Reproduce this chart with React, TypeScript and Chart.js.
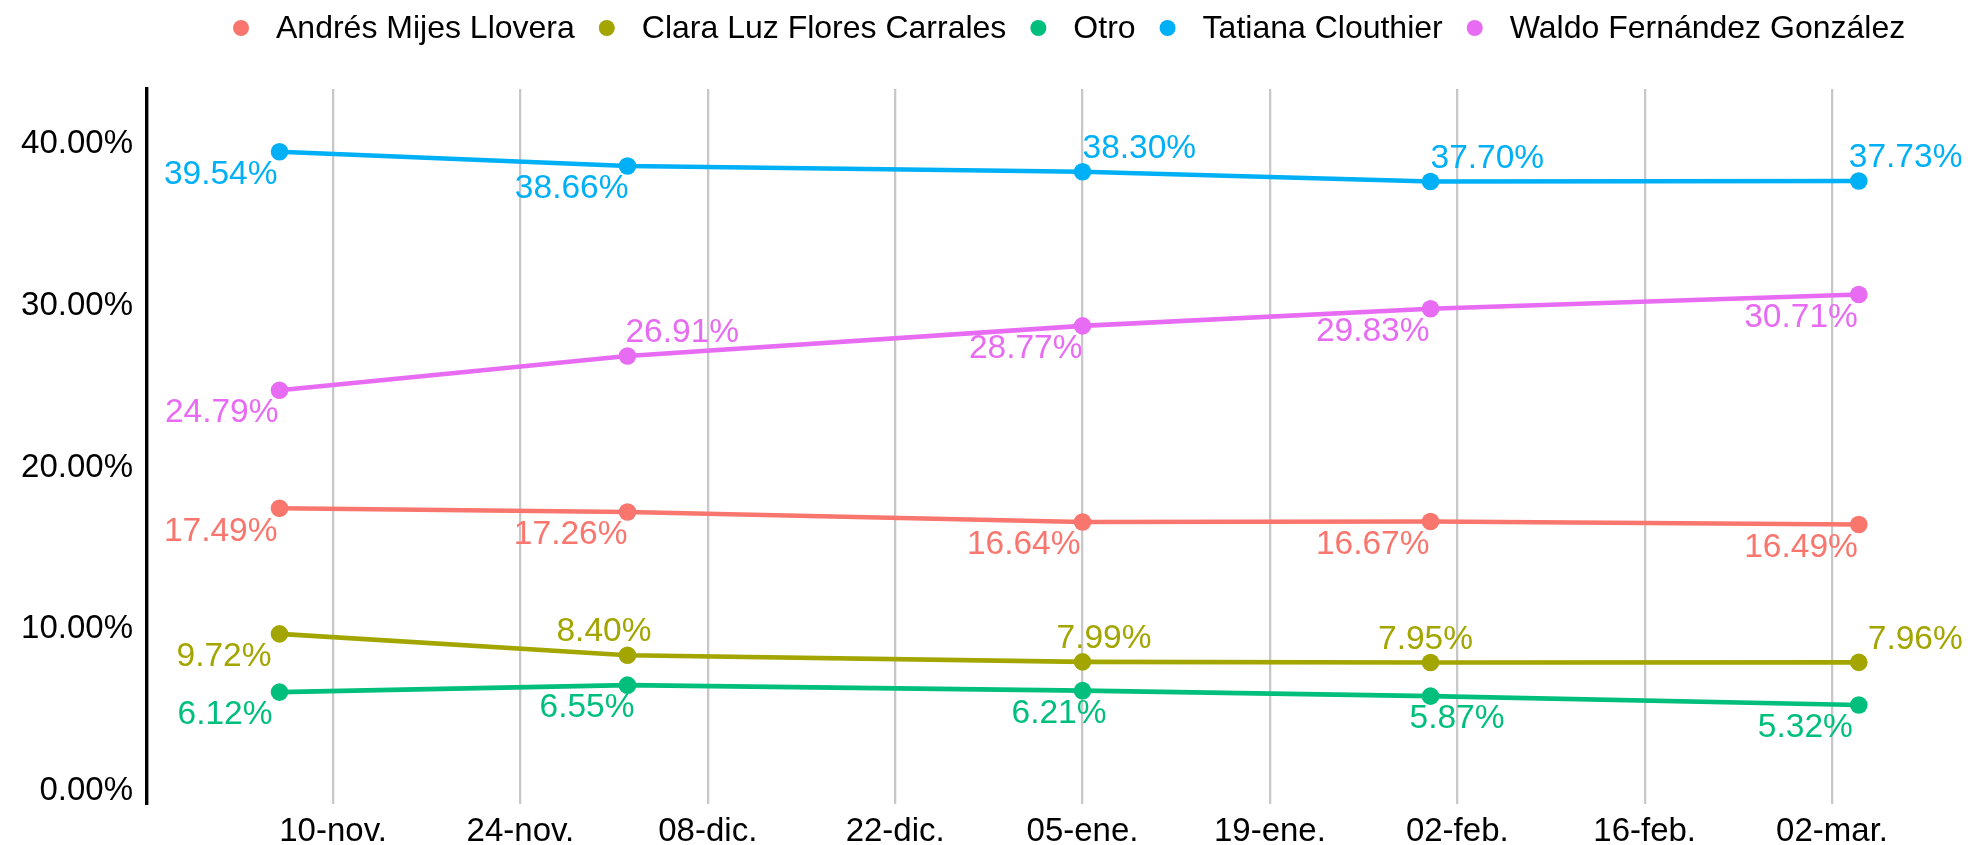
import React, { useEffect, useRef } from 'react';
import { Chart, registerables } from 'chart.js';

Chart.register(...registerables);

// ---------- data ----------
const seriesNames = [
  'Andrés Mijes Llovera',
  'Clara Luz Flores Carrales',
  'Otro',
  'Tatiana Clouthier',
  'Waldo Fernández González',
];
const seriesColors = ['#F8766D', '#A3A500', '#00BF7D', '#00B0F6', '#E76BF3'];

const pollDates = ['2020-11-06', '2020-12-02', '2021-01-05', '2021-01-31', '2021-03-04'];

const andres = [17.49, 17.26, 16.64, 16.67, 16.49];
const clara = [9.72, 8.4, 7.99, 7.95, 7.96];
const otro = [6.12, 6.55, 6.21, 5.87, 5.32];
const tatiana = [39.54, 38.66, 38.3, 37.7, 37.73];
const waldo = [24.79, 26.91, 28.77, 29.83, 30.71];

const tickDates = [
  '2020-11-10', '2020-11-24', '2020-12-08', '2020-12-22', '2021-01-05',
  '2021-01-19', '2021-02-02', '2021-02-16', '2021-03-02',
];
const tickLabels = [
  '10-nov.', '24-nov.', '08-dic.', '22-dic.', '05-ene.',
  '19-ene.', '02-feb.', '16-feb.', '02-mar.',
];
const yTicks = [0, 10, 20, 30, 40];

// ---------- label placement (style) : [textAlign, above/below, dx] ----------
type Place = [CanvasTextAlign, 'above' | 'below', number];
const andresPlace: Place[] = [['right', 'below', -2], ['right', 'below', 0], ['right', 'below', -2], ['right', 'below', -1], ['right', 'below', -1]];
const claraPlace: Place[] = [['right', 'below', -8], ['left', 'above', -71], ['left', 'above', -26], ['center', 'above', -5], ['left', 'above', 9]];
const otroPlace: Place[] = [['right', 'below', -7], ['right', 'below', 7], ['left', 'below', -71], ['left', 'below', -21], ['right', 'below', -6]];
const tatianaPlace: Place[] = [['right', 'below', -2], ['right', 'below', 1], ['left', 'above', 0], ['left', 'above', 0], ['left', 'above', -10]];
const waldoPlace: Place[] = [['right', 'below', -1], ['left', 'above', -2], ['right', 'below', 0], ['right', 'below', -1], ['right', 'below', -1]];

const seriesValues = [andres, clara, otro, tatiana, waldo];
const seriesPlaces = [andresPlace, claraPlace, otroPlace, tatianaPlace, waldoPlace];

const DAY = 86400000;
const dayNum = (s: string) => Date.parse(s + 'T00:00:00Z') / DAY;

const X_MIN = dayNum('2020-10-27') + 0.1;
const X_MAX = dayNum('2021-03-11') + 0.8;
const Y_MIN = -0.8;
const Y_MAX = 43.42;

const FONT_FAMILY = '"Liberation Sans", Arial, Helvetica, sans-serif';

const pointLabelPlugin = {
  id: 'pointLabels',
  afterDatasetsDraw(chart: any) {
    const ctx = chart.ctx;
    ctx.save();
    ctx.font = `33.5px ${FONT_FAMILY}`;
    ctx.textBaseline = 'middle';
    chart.data.datasets.forEach((ds: any, i: number) => {
      const meta = chart.getDatasetMeta(i);
      meta.data.forEach((pt: any, j: number) => {
        const [align, v, dx] = seriesPlaces[i][j];
        ctx.fillStyle = seriesColors[i];
        ctx.textAlign = align;
        const text = seriesValues[i][j].toFixed(2) + '%';
        ctx.fillText(text, pt.x + dx, pt.y + (v === 'above' ? -23 : 23));
      });
    });
    ctx.restore();
  },
};

const legendPlugin = {
  id: 'customLegend',
  afterDraw(chart: any) {
    const ctx = chart.ctx;
    ctx.save();
    ctx.font = `32px ${FONT_FAMILY}`;
    ctx.textBaseline = 'middle';
    ctx.textAlign = 'left';
    const R = 8;
    const gapText = 35;
    const gapItem = 32;
    const widths = seriesNames.map((n) => ctx.measureText(n).width);
    let total = R;
    widths.forEach((w, i) => {
      total += gapText + w + (i < widths.length - 1 ? gapItem : 0);
    });
    const center = (chart.chartArea.left + chart.chartArea.right) / 2 + 14;
    let x = center - total / 2 + R;
    const y = 28;
    seriesNames.forEach((name, i) => {
      ctx.fillStyle = seriesColors[i];
      ctx.beginPath();
      ctx.arc(x, y, R, 0, Math.PI * 2);
      ctx.fill();
      ctx.fillStyle = '#000';
      ctx.fillText(name, x + gapText, y + 1);
      x += gapText + widths[i] + gapItem;
    });
    ctx.restore();
  },
};

export default function App() {
  const canvasRef = useRef<HTMLCanvasElement | null>(null);

  useEffect(() => {
    document.body.style.margin = '0';
    document.body.style.overflow = 'hidden';
    document.body.style.background = '#ffffff';
    const canvas = canvasRef.current;
    if (!canvas) return;

    const datasets = seriesNames.map((name, i) => ({
      label: name,
      data: pollDates.map((d, j) => ({ x: dayNum(d), y: seriesValues[i][j] })),
      borderColor: seriesColors[i],
      backgroundColor: seriesColors[i],
      pointBackgroundColor: seriesColors[i],
      pointBorderWidth: 0,
      pointRadius: 8.8,
      borderWidth: 4.6,
      tension: 0,
      fill: false,
      clip: false as any,
    }));

    const chart = new Chart(canvas, {
      type: 'line',
      data: { datasets },
      options: {
        responsive: false,
        animation: false,
        events: [],
        layout: { padding: { top: 89, right: 6, left: 0, bottom: 0 } },
        plugins: {
          legend: { display: false },
          tooltip: { enabled: false },
          title: { display: false },
        },
        scales: {
          x: {
            type: 'linear',
            min: X_MIN,
            max: X_MAX,
            afterBuildTicks: (s: any) => {
              s.ticks = tickDates.map((d) => ({ value: dayNum(d) }));
            },
            afterFit: (s: any) => {
              s.height = 41;
            },
            grid: { display: true, color: '#c8c8c8', lineWidth: 2.3, drawTicks: false },
            border: { display: false },
            ticks: {
              font: { family: FONT_FAMILY, size: 33 },
              color: '#000000',
              padding: 8,
              maxRotation: 0,
              autoSkip: false,
              callback: (_v: any, i: number) => tickLabels[i],
            },
          },
          y: {
            type: 'linear',
            min: Y_MIN,
            max: Y_MAX,
            afterBuildTicks: (s: any) => {
              s.ticks = yTicks.map((v) => ({ value: v }));
            },
            afterFit: (s: any) => {
              s.width = 147;
            },
            grid: { display: false, drawTicks: false },
            border: { display: true, color: '#000000', width: 3.4 },
            ticks: {
              font: { family: FONT_FAMILY, size: 33 },
              color: '#000000',
              padding: 14,
              callback: (v: any) => Number(v).toFixed(2) + '%',
            },
          },
        },
      },
      plugins: [pointLabelPlugin, legendPlugin],
    });

    return () => {
      chart.destroy();
    };
  }, []);

  return (
    <div style={{ width: 1972, height: 845, background: '#ffffff' }}>
      <canvas ref={canvasRef} width={1972} height={845} style={{ display: 'block', width: 1972, height: 845 }} />
    </div>
  );
}
